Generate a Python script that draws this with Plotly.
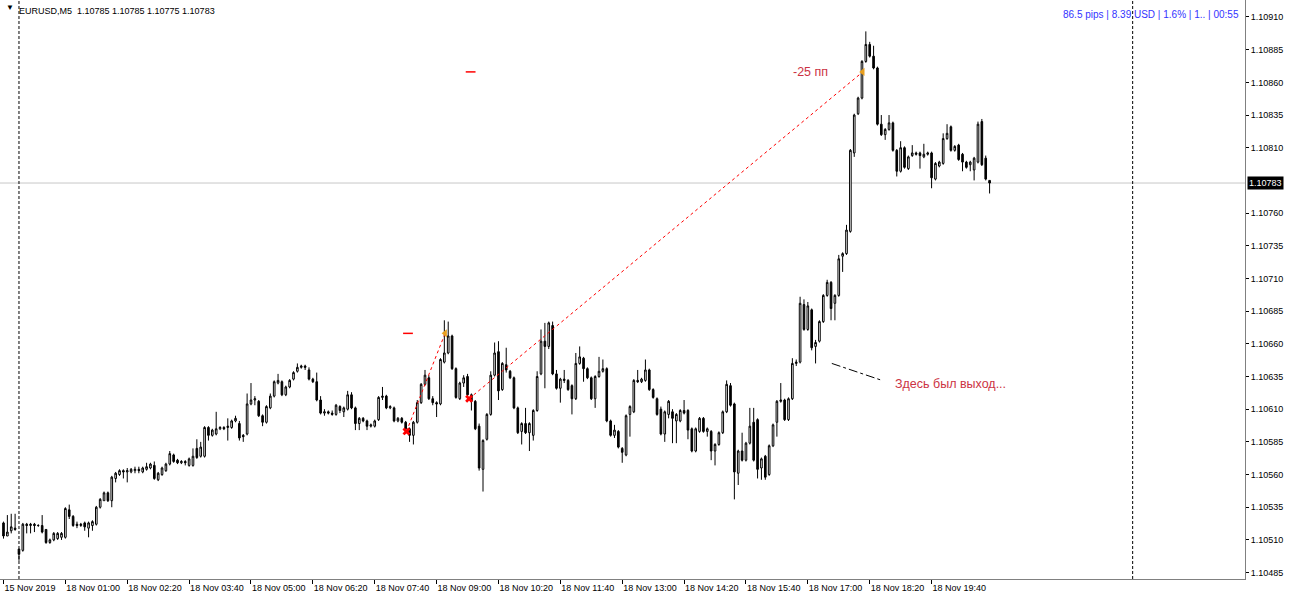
import pandas as pd
import plotly.graph_objects as go

# ---------------- data ----------------
times = list(pd.date_range("2019-11-15 23:40", periods=4, freq="5min")) + \
        list(pd.date_range("2019-11-18 00:00", periods=252, freq="5min"))

open_ = [
    1.10523, 1.10513, 1.10517, 1.10519, 1.10503, 1.10502, 1.10522, 1.10521, 1.10522, 1.10521, 1.10521, 1.10518, 1.10508, 1.10510, 1.10511, 1.10512,
    1.10512, 1.10533, 1.10528, 1.10522, 1.10521, 1.10523, 1.10519, 1.10521, 1.10522, 1.10535, 1.10540, 1.10546, 1.10540, 1.10557, 1.10560, 1.10563,
    1.10562, 1.10562, 1.10563, 1.10564, 1.10562, 1.10564, 1.10565, 1.10567, 1.10556, 1.10560, 1.10563, 1.10568, 1.10575, 1.10571, 1.10569, 1.10570,
    1.10567, 1.10567, 1.10580, 1.10574, 1.10574, 1.10596, 1.10590, 1.10591, 1.10595, 1.10596, 1.10596, 1.10596, 1.10601, 1.10599, 1.10590, 1.10591,
    1.10614, 1.10617, 1.10616, 1.10605, 1.10600, 1.10611, 1.10620, 1.10630, 1.10631, 1.10621, 1.10627, 1.10633, 1.10639, 1.10642, 1.10643, 1.10640,
    1.10633, 1.10631, 1.10617, 1.10607, 1.10608, 1.10607, 1.10606, 1.10612, 1.10608, 1.10610, 1.10621, 1.10611, 1.10599, 1.10603, 1.10601, 1.10597,
    1.10597, 1.10602, 1.10619, 1.10620, 1.10611, 1.10611, 1.10601, 1.10603, 1.10600, 1.10595, 1.10590, 1.10600, 1.10615, 1.10629, 1.10634, 1.10618,
    1.10615, 1.10614, 1.10646, 1.10653, 1.10666, 1.10641, 1.10618, 1.10630, 1.10635, 1.10621, 1.10616, 1.10597, 1.10564, 1.10587, 1.10606, 1.10636,
    1.10654, 1.10625, 1.10644, 1.10639, 1.10634, 1.10611, 1.10593, 1.10599, 1.10592, 1.10590, 1.10609, 1.10637, 1.10662, 1.10658, 1.10674, 1.10637,
    1.10626, 1.10633, 1.10632, 1.10628, 1.10618, 1.10645, 1.10649, 1.10641, 1.10634, 1.10618, 1.10635, 1.10639, 1.10641, 1.10601, 1.10590, 1.10593,
    1.10580, 1.10575, 1.10606, 1.10608, 1.10632, 1.10631, 1.10632, 1.10640, 1.10625, 1.10618, 1.10610, 1.10591, 1.10606, 1.10608, 1.10601, 1.10601,
    1.10609, 1.10609, 1.10595, 1.10578, 1.10593, 1.10603, 1.10593, 1.10593, 1.10578, 1.10583, 1.10592, 1.10608, 1.10628, 1.10614, 1.10561, 1.10578,
    1.10571, 1.10584, 1.10600, 1.10602, 1.10565, 1.10574, 1.10560, 1.10582, 1.10600, 1.10616, 1.10617, 1.10602, 1.10618, 1.10645, 1.10646, 1.10690,
    1.10671, 1.10686, 1.10658, 1.10662, 1.10677, 1.10697, 1.10707, 1.10691, 1.10697, 1.10727, 1.10729, 1.10746, 1.10806, 1.10836, 1.10848, 1.10876,
    1.10889, 1.10880, 1.10871, 1.10828, 1.10820, 1.10824, 1.10829, 1.10808, 1.10792, 1.10810, 1.10794, 1.10804, 1.10806, 1.10806, 1.10803, 1.10805,
    1.10806, 1.10786, 1.10796, 1.10798, 1.10817, 1.10826, 1.10808, 1.10812, 1.10805, 1.10799, 1.10797, 1.10793, 1.10799, 1.10830, 1.10802, 1.10785,
]
high = [
    1.10524, 1.10529, 1.10530, 1.10530, 1.10503, 1.10523, 1.10523, 1.10523, 1.10523, 1.10522, 1.10529, 1.10518, 1.10511, 1.10516, 1.10516, 1.10516,
    1.10535, 1.10537, 1.10529, 1.10524, 1.10523, 1.10524, 1.10524, 1.10525, 1.10536, 1.10542, 1.10547, 1.10547, 1.10559, 1.10562, 1.10564, 1.10564,
    1.10565, 1.10565, 1.10566, 1.10566, 1.10566, 1.10569, 1.10569, 1.10570, 1.10562, 1.10566, 1.10569, 1.10578, 1.10576, 1.10572, 1.10571, 1.10571,
    1.10573, 1.10580, 1.10587, 1.10585, 1.10597, 1.10597, 1.10595, 1.10608, 1.10597, 1.10597, 1.10603, 1.10602, 1.10605, 1.10601, 1.10591, 1.10622,
    1.10630, 1.10620, 1.10617, 1.10606, 1.10613, 1.10622, 1.10632, 1.10637, 1.10632, 1.10628, 1.10633, 1.10639, 1.10645, 1.10644, 1.10644, 1.10642,
    1.10634, 1.10638, 1.10620, 1.10610, 1.10609, 1.10609, 1.10614, 1.10613, 1.10612, 1.10624, 1.10623, 1.10612, 1.10604, 1.10604, 1.10602, 1.10599,
    1.10602, 1.10620, 1.10627, 1.10621, 1.10613, 1.10612, 1.10604, 1.10604, 1.10601, 1.10596, 1.10601, 1.10617, 1.10630, 1.10640, 1.10636, 1.10620,
    1.10616, 1.10649, 1.10678, 1.10677, 1.10667, 1.10642, 1.10631, 1.10636, 1.10637, 1.10622, 1.10617, 1.10599, 1.10587, 1.10607, 1.10639, 1.10661,
    1.10662, 1.10646, 1.10657, 1.10640, 1.10635, 1.10612, 1.10600, 1.10611, 1.10600, 1.10610, 1.10639, 1.10671, 1.10676, 1.10677, 1.10677, 1.10640,
    1.10634, 1.10640, 1.10633, 1.10629, 1.10653, 1.10658, 1.10650, 1.10642, 1.10635, 1.10636, 1.10650, 1.10648, 1.10642, 1.10602, 1.10598, 1.10594,
    1.10581, 1.10606, 1.10613, 1.10633, 1.10640, 1.10634, 1.10648, 1.10641, 1.10626, 1.10619, 1.10612, 1.10609, 1.10617, 1.10610, 1.10607, 1.10610,
    1.10617, 1.10610, 1.10596, 1.10596, 1.10604, 1.10604, 1.10596, 1.10594, 1.10584, 1.10593, 1.10609, 1.10632, 1.10630, 1.10615, 1.10579, 1.10592,
    1.10585, 1.10611, 1.10611, 1.10603, 1.10573, 1.10575, 1.10583, 1.10599, 1.10617, 1.10630, 1.10618, 1.10619, 1.10649, 1.10648, 1.10696, 1.10694,
    1.10692, 1.10687, 1.10663, 1.10678, 1.10698, 1.10709, 1.10708, 1.10698, 1.10728, 1.10730, 1.10751, 1.10809, 1.10836, 1.10849, 1.10877, 1.10899,
    1.10891, 1.10888, 1.10872, 1.10835, 1.10825, 1.10835, 1.10830, 1.10809, 1.10815, 1.10811, 1.10804, 1.10812, 1.10807, 1.10807, 1.10813, 1.10807,
    1.10807, 1.10799, 1.10800, 1.10821, 1.10828, 1.10827, 1.10812, 1.10813, 1.10806, 1.10800, 1.10800, 1.10803, 1.10830, 1.10832, 1.10804, 1.10785,
]
low = [
    1.10511, 1.10513, 1.10515, 1.10517, 1.10494, 1.10501, 1.10515, 1.10515, 1.10516, 1.10520, 1.10515, 1.10507, 1.10507, 1.10509, 1.10510, 1.10510,
    1.10511, 1.10526, 1.10520, 1.10519, 1.10520, 1.10517, 1.10512, 1.10517, 1.10521, 1.10534, 1.10540, 1.10539, 1.10535, 1.10554, 1.10559, 1.10557,
    1.10554, 1.10561, 1.10561, 1.10561, 1.10561, 1.10563, 1.10564, 1.10556, 1.10555, 1.10559, 1.10562, 1.10567, 1.10569, 1.10568, 1.10568, 1.10567,
    1.10566, 1.10566, 1.10572, 1.10573, 1.10573, 1.10586, 1.10589, 1.10590, 1.10594, 1.10594, 1.10586, 1.10595, 1.10600, 1.10586, 1.10585, 1.10590,
    1.10613, 1.10613, 1.10604, 1.10597, 1.10599, 1.10610, 1.10619, 1.10629, 1.10620, 1.10620, 1.10626, 1.10632, 1.10638, 1.10641, 1.10640, 1.10632,
    1.10630, 1.10616, 1.10606, 1.10605, 1.10606, 1.10605, 1.10605, 1.10607, 1.10604, 1.10609, 1.10610, 1.10594, 1.10594, 1.10600, 1.10594, 1.10596,
    1.10596, 1.10601, 1.10617, 1.10610, 1.10610, 1.10600, 1.10600, 1.10599, 1.10594, 1.10585, 1.10583, 1.10599, 1.10614, 1.10628, 1.10617, 1.10613,
    1.10604, 1.10613, 1.10645, 1.10652, 1.10640, 1.10618, 1.10617, 1.10627, 1.10620, 1.10609, 1.10594, 1.10563, 1.10547, 1.10586, 1.10605, 1.10635,
    1.10617, 1.10624, 1.10638, 1.10633, 1.10610, 1.10591, 1.10583, 1.10591, 1.10578, 1.10586, 1.10608, 1.10636, 1.10626, 1.10656, 1.10636, 1.10625,
    1.10615, 1.10630, 1.10624, 1.10606, 1.10617, 1.10644, 1.10631, 1.10633, 1.10617, 1.10611, 1.10634, 1.10638, 1.10600, 1.10589, 1.10588, 1.10580,
    1.10569, 1.10574, 1.10589, 1.10607, 1.10630, 1.10630, 1.10631, 1.10624, 1.10618, 1.10605, 1.10590, 1.10585, 1.10603, 1.10584, 1.10584, 1.10600,
    1.10606, 1.10587, 1.10577, 1.10577, 1.10592, 1.10592, 1.10589, 1.10571, 1.10567, 1.10582, 1.10591, 1.10607, 1.10612, 1.10541, 1.10552, 1.10570,
    1.10570, 1.10583, 1.10570, 1.10557, 1.10556, 1.10556, 1.10559, 1.10581, 1.10589, 1.10615, 1.10601, 1.10601, 1.10617, 1.10643, 1.10645, 1.10670,
    1.10670, 1.10655, 1.10645, 1.10661, 1.10676, 1.10696, 1.10678, 1.10678, 1.10696, 1.10715, 1.10728, 1.10745, 1.10803, 1.10835, 1.10847, 1.10875,
    1.10879, 1.10870, 1.10827, 1.10819, 1.10816, 1.10823, 1.10807, 1.10788, 1.10791, 1.10794, 1.10793, 1.10803, 1.10804, 1.10794, 1.10802, 1.10804,
    1.10779, 1.10785, 1.10795, 1.10797, 1.10816, 1.10807, 1.10807, 1.10800, 1.10792, 1.10794, 1.10792, 1.10785, 1.10798, 1.10796, 1.10785, 1.10775,
]
close = [
    1.10513, 1.10516, 1.10520, 1.10518, 1.10499, 1.10522, 1.10521, 1.10522, 1.10521, 1.10521, 1.10516, 1.10508, 1.10510, 1.10515, 1.10515, 1.10515,
    1.10534, 1.10528, 1.10521, 1.10521, 1.10522, 1.10520, 1.10523, 1.10524, 1.10535, 1.10541, 1.10546, 1.10540, 1.10558, 1.10561, 1.10563, 1.10562,
    1.10563, 1.10564, 1.10564, 1.10563, 1.10565, 1.10566, 1.10568, 1.10557, 1.10561, 1.10565, 1.10568, 1.10576, 1.10570, 1.10569, 1.10570, 1.10569,
    1.10572, 1.10574, 1.10573, 1.10581, 1.10596, 1.10590, 1.10594, 1.10595, 1.10596, 1.10595, 1.10597, 1.10601, 1.10603, 1.10588, 1.10589, 1.10614,
    1.10617, 1.10618, 1.10605, 1.10600, 1.10612, 1.10620, 1.10631, 1.10632, 1.10621, 1.10627, 1.10632, 1.10638, 1.10642, 1.10643, 1.10642, 1.10633,
    1.10631, 1.10617, 1.10607, 1.10608, 1.10607, 1.10606, 1.10613, 1.10609, 1.10611, 1.10621, 1.10611, 1.10599, 1.10603, 1.10601, 1.10597, 1.10598,
    1.10601, 1.10619, 1.10620, 1.10611, 1.10612, 1.10601, 1.10603, 1.10600, 1.10595, 1.10590, 1.10600, 1.10615, 1.10629, 1.10636, 1.10618, 1.10615,
    1.10614, 1.10648, 1.10653, 1.10666, 1.10641, 1.10619, 1.10630, 1.10634, 1.10621, 1.10616, 1.10595, 1.10565, 1.10586, 1.10606, 1.10636, 1.10653,
    1.10624, 1.10645, 1.10640, 1.10634, 1.10611, 1.10592, 1.10599, 1.10592, 1.10599, 1.10609, 1.10635, 1.10662, 1.10658, 1.10676, 1.10637, 1.10626,
    1.10633, 1.10632, 1.10625, 1.10618, 1.10645, 1.10650, 1.10641, 1.10634, 1.10618, 1.10635, 1.10639, 1.10641, 1.10601, 1.10590, 1.10594, 1.10581,
    1.10577, 1.10605, 1.10612, 1.10632, 1.10631, 1.10633, 1.10640, 1.10625, 1.10619, 1.10606, 1.10591, 1.10608, 1.10616, 1.10603, 1.10606, 1.10609,
    1.10607, 1.10594, 1.10578, 1.10595, 1.10603, 1.10593, 1.10595, 1.10578, 1.10583, 1.10592, 1.10608, 1.10629, 1.10613, 1.10562, 1.10578, 1.10571,
    1.10584, 1.10597, 1.10571, 1.10564, 1.10572, 1.10558, 1.10582, 1.10598, 1.10616, 1.10617, 1.10602, 1.10618, 1.10645, 1.10646, 1.10691, 1.10671,
    1.10689, 1.10657, 1.10661, 1.10677, 1.10697, 1.10707, 1.10687, 1.10697, 1.10725, 1.10729, 1.10747, 1.10808, 1.10835, 1.10848, 1.10876, 1.10889,
    1.10880, 1.10871, 1.10828, 1.10820, 1.10824, 1.10829, 1.10808, 1.10792, 1.10810, 1.10795, 1.10803, 1.10806, 1.10805, 1.10804, 1.10805, 1.10806,
    1.10787, 1.10798, 1.10799, 1.10817, 1.10821, 1.10808, 1.10811, 1.10801, 1.10799, 1.10795, 1.10799, 1.10802, 1.10828, 1.10797, 1.10786, 1.10783,
]

# price scale labels shown on the right (1.10785 is hidden behind the last-price box)
price_ticks = [1.10485, 1.10510, 1.10535, 1.10560, 1.10585, 1.10610, 1.10635, 1.10660,
               1.10685, 1.10710, 1.10735, 1.10760, 1.10810, 1.10835, 1.10860,
               1.10885, 1.10910]
time_ticks = ["2019-11-15 23:40", "2019-11-18 01:00", "2019-11-18 02:20", "2019-11-18 03:40",
              "2019-11-18 05:00", "2019-11-18 06:20", "2019-11-18 07:40", "2019-11-18 09:00",
              "2019-11-18 10:20", "2019-11-18 11:40", "2019-11-18 13:00", "2019-11-18 14:20",
              "2019-11-18 15:40", "2019-11-18 17:00", "2019-11-18 18:20", "2019-11-18 19:40"]
time_tick_labels = ["15 Nov 2019", "18 Nov 01:00", "18 Nov 02:20", "18 Nov 03:40",
                    "18 Nov 05:00", "18 Nov 06:20", "18 Nov 07:40", "18 Nov 09:00",
                    "18 Nov 10:20", "18 Nov 11:40", "18 Nov 13:00", "18 Nov 14:20",
                    "18 Nov 15:40", "18 Nov 17:00", "18 Nov 18:20", "18 Nov 19:40"]
day_separators = ["2019-11-18 00:00", "2019-11-19 00:00"]

# trades (sell): entry time/price, exit time/price
trade_open_time = ["2019-11-18 08:21", "2019-11-18 09:42"]
trade_open_price = [1.10593, 1.10618]
trade_close_time = ["2019-11-18 09:11", "2019-11-18 18:11"]
trade_close_price = [1.10668, 1.10868]

last_price = 1.10783
header = "EURUSD,M5  1.10785 1.10785 1.10775 1.10783"
info_text = "86.5 pips | 8.39 USD | 1.6% | 1.. | 00:55"

# ---------------- geometry helpers ----------------
PLOT_W, PLOT_H = 1245, 579
BAR_PX = 3.867
FIRST_PX = 3.5
Y_TOP, Y_BOT = 1.10923, 1.104801

t0 = pd.Timestamp("2019-11-18 00:00")
def bar_pos(t):
    t = pd.Timestamp(t)
    if t < t0:
        return [i for i, tt in enumerate(times) if tt == t][0]
    return 4 + (t - t0) / pd.Timedelta("5min")

def px(xp):
    return xp / PLOT_W
def py(yp):
    return 1 - yp / PLOT_H

xs = list(range(len(times)))
FONT = "Liberation Sans, Arial, sans-serif"

fig = go.Figure()
fig.add_trace(go.Candlestick(
    x=xs, open=open_, high=high, low=low, close=close,
    increasing=dict(line=dict(color="black", width=1), fillcolor="white"),
    decreasing=dict(line=dict(color="black", width=1), fillcolor="black"),
    whiskerwidth=0, showlegend=False, hoverinfo="skip"))

# trade lines
for ot, op, ct, cp in zip(trade_open_time, trade_open_price, trade_close_time, trade_close_price):
    fig.add_trace(go.Scatter(x=[bar_pos(ot), bar_pos(ct)], y=[op, cp], mode="lines",
                             line=dict(color="#ff0000", width=1, dash="3px,3px"),
                             showlegend=False, hoverinfo="skip"))
fig.add_trace(go.Scatter(x=[bar_pos(t) for t in trade_open_time], y=trade_open_price, mode="markers",
                         marker=dict(symbol="x", size=7, color="#ff0000", line=dict(width=0)),
                         showlegend=False, hoverinfo="skip"))
fig.add_trace(go.Scatter(x=[bar_pos(t) for t in trade_close_time], y=trade_close_price, mode="markers",
                         marker=dict(symbol="triangle-left", size=7, color="#e8a020"),
                         showlegend=False, hoverinfo="skip"))
fig.add_trace(go.Scatter(x=[bar_pos(t) + 0.4 for t in trade_open_time], y=trade_close_price, mode="markers",
                         marker=dict(symbol="line-ew", size=7, color="#ff0000",
                                     line=dict(color="#ff0000", width=1.5)),
                         showlegend=False, hoverinfo="skip"))

shapes = []
# current price line
shapes.append(dict(type="line", xref="paper", yref="y", x0=0, x1=1, y0=last_price, y1=last_price,
                   line=dict(color="#c8c8c8", width=1), layer="below"))
for d in day_separators:
    p = bar_pos(d)
    shapes.append(dict(type="line", xref="x", yref="paper", x0=p, x1=p, y0=0, y1=1,
                       line=dict(color="black", width=1, dash="3px,2px")))
# drawn dash-dot line towards the comment
shapes.append(dict(type="line", xref="x", yref="y", x0=214.2, y0=1.10645, x1=227.2, y1=1.10632,
                   line=dict(color="black", width=1, dash="dashdot")))

annotations = [
    dict(xref="paper", yref="paper", x=px(4), y=py(8), text="▼", showarrow=False,
         xanchor="left", yanchor="middle", font=dict(family=FONT, size=8, color="black")),
    dict(xref="paper", yref="paper", x=px(17), y=py(11), text=header, showarrow=False,
         xanchor="left", yanchor="middle", font=dict(family=FONT, size=9, color="black")),
    dict(xref="paper", yref="paper", x=px(1241), y=py(15), text=info_text, showarrow=False,
         xanchor="right", yanchor="middle", font=dict(family=FONT, size=10, color="#3333ff")),
    dict(xref="paper", yref="y", x=1, y=last_price, text="1.10783", showarrow=False,
         xanchor="left", yanchor="middle", xshift=2, bgcolor="black", borderpad=1,
         font=dict(family=FONT, size=9, color="white")),
    dict(xref="x", yref="y", x=208.8, y=1.10868, text="-25 пп", showarrow=False,
         xanchor="center", yanchor="middle", font=dict(family=FONT, size=12.5, color="#cc3344")),
    dict(xref="x", yref="y", x=230.0, y=1.10629, text="Здесь был выход...", showarrow=False,
         xanchor="left", yanchor="middle", font=dict(family=FONT, size=12.5, color="#cc3344")),
]

fig.update_layout(
    width=1290, height=600,
    margin=dict(l=0, r=1290 - PLOT_W, t=0, b=600 - PLOT_H, autoexpand=False),
    paper_bgcolor="white", plot_bgcolor="white",
    showlegend=False, boxgap=0.4,
    shapes=shapes, annotations=annotations,
    xaxis=dict(range=[-FIRST_PX / BAR_PX, (PLOT_W - FIRST_PX) / BAR_PX],
               showgrid=False, zeroline=False, showline=True, linecolor="#808080", linewidth=1,
               ticks="outside", ticklen=4, tickcolor="black", tickwidth=1,
               tickvals=[bar_pos(t) for t in time_ticks], ticktext=time_tick_labels,
               ticklabelposition="outside right", tickangle=0, automargin=False,
               tickfont=dict(family=FONT, size=9, color="black"),
               rangeslider=dict(visible=False), fixedrange=True),
    yaxis=dict(range=[Y_BOT, Y_TOP], side="right", automargin=False,
               showgrid=False, zeroline=False, showline=True, linecolor="#808080", linewidth=1,
               ticks="outside", ticklen=3, tickcolor="black", tickwidth=1,
               tickvals=price_ticks, ticktext=[f"{v:.5f}" for v in price_ticks],
               tickfont=dict(family=FONT, size=9, color="black"), fixedrange=True),
)

fig.write_html("out.html")
